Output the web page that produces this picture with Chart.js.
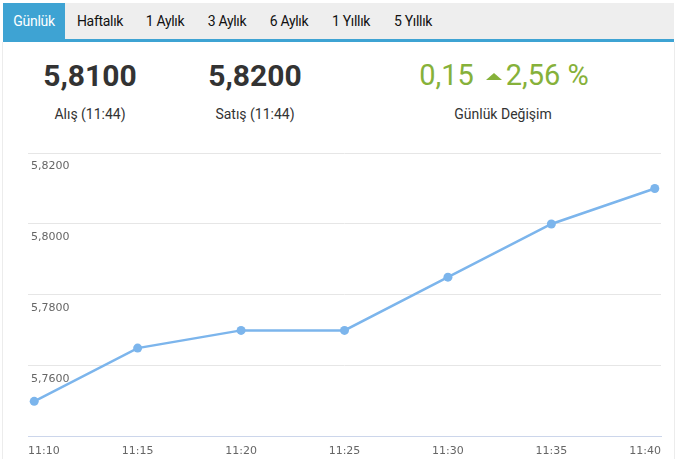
<!DOCTYPE html>
<html lang="tr">
<head>
<meta charset="utf-8">
<title>Günlük</title>
<script src="https://cdn.jsdelivr.net/npm/chart.js@4.4.1/dist/chart.umd.min.js"></script>
<style>
  html, body { margin: 0; padding: 0; background: #fff; }
  body { width: 678px; height: 459px; position: relative; overflow: hidden; font-family: Roboto, "Noto Sans", sans-serif; color: #333; }
  .tabs { position: absolute; left: 3px; top: 3px; width: 671px; height: 36px; background: #eeeeee; border-bottom: 3px solid #3ea3d3; }
  .tab { position: absolute; top: 0; height: 36px; line-height: 36px; font-size: 14px; color: #111; text-align: center; letter-spacing: -0.3px; }
  .tab.active { background: #3ea3d3; color: #fff; }
  .panel { position: absolute; left: 2px; top: 42px; width: 671px; height: 430px; border-left: 1px solid #ececec; border-right: 1px solid #ececec; }
  .big { position: absolute; top: 58px; font-size: 30px; font-weight: 700; color: #333; text-align: center; width: 200px; }
  .lbl { position: absolute; top: 106px; font-size: 14px; color: #333; text-align: center; width: 200px; }
  .green { position: absolute; top: 58px; font-size: 29px; color: #86b13a; text-align: center; width: 260px; left: 374px; }
  .tri { display: inline-block; width: 0; height: 0; border-left: 8.5px solid transparent; border-right: 8.5px solid transparent; border-bottom: 7px solid #86b13a; margin: 0 4px 0 12px; vertical-align: 5px; }
  #wrap { position: absolute; left: 0; top: 140px; width: 678px; height: 326px; }
</style>
</head>
<body>
<div class="tabs">
  <div class="tab active" style="left:0;width:62px">Günlük</div>
  <div class="tab" style="left:64px;width:66px">Haftalık</div>
  <div class="tab" style="left:134px;width:56px">1 Aylık</div>
  <div class="tab" style="left:196px;width:56px">3 Aylık</div>
  <div class="tab" style="left:258px;width:56px">6 Aylık</div>
  <div class="tab" style="left:320px;width:56px">1 Yıllık</div>
  <div class="tab" style="left:382px;width:56px">5 Yıllık</div>
</div>
<div class="panel"></div>
<div class="big" style="left:-10px">5,8100</div>
<div class="lbl" style="left:-10px">Alış (11:44)</div>
<div class="big" style="left:155px">5,8200</div>
<div class="lbl" style="left:155px">Satış (11:44)</div>
<div class="green">0,15<span class="tri"></span>2,56 %</div>
<div class="lbl" style="left:403px">Günlük Değişim</div>
<div id="wrap"><canvas id="chart"></canvas></div>
<script>
// time labels and minute positions
const times = ["11:10", "11:15", "11:20", "11:25", "11:30", "11:35", "11:40"];
const minutes = [10, 15, 20, 25, 30, 35, 40];
// USD/TRY rate at each point
const rates = [5.750, 5.765, 5.770, 5.770, 5.785, 5.800, 5.810];
const yTicks = [5.74, 5.76, 5.78, 5.80, 5.82];

const xMin = 9.7, xMax = 40.3;

function timeFor(v) {
  let best = 0;
  minutes.forEach((m, i) => { if (Math.abs(m - v) < Math.abs(minutes[best] - v)) best = i; });
  return times[best];
}

const ctx = document.getElementById("chart").getContext("2d");
new Chart(ctx, {
  type: "line",
  data: {
    datasets: [{
      data: minutes.map((m, i) => ({ x: m, y: rates[i] })),
      borderColor: "#7cb5ec",
      backgroundColor: "#7cb5ec",
      borderWidth: 2.5,
      pointRadius: 4.5,
      pointBorderWidth: 0,
      tension: 0,
    }],
  },
  options: {
    responsive: true,
    maintainAspectRatio: false,
    animation: false,
    layout: { padding: { left: 22, right: 17, top: 13, bottom: 0 } },
    plugins: { legend: { display: false }, tooltip: { enabled: false } },
    scales: {
      x: {
        type: "linear",
        min: xMin,
        max: xMax,
        afterBuildTicks: axis => {
          // first and last label sit at the plot edges
          axis.ticks = [xMin, 15, 20, 25, 30, 35, xMax].map(v => ({ value: v }));
        },
        grid: { display: false, drawTicks: false },
        border: { display: true, color: "#ccd6eb", width: 1 },
        ticks: {
          align: "inner",
          padding: 8,
          maxRotation: 0,
          autoSkip: false,
          color: "#666",
          font: { family: "DejaVu Sans", size: 11 },
          callback: value => timeFor(value),
        },
      },
      y: {
        min: 5.74,
        max: 5.82,
        afterBuildTicks: axis => {
          axis.ticks = yTicks.map(v => ({ value: v }));
        },
        grid: {
          drawTicks: false,
          color: c => (c.tick && Math.abs(c.tick.value - 5.74) < 1e-6 ? "rgba(0,0,0,0)" : "#e6e6e6"),
        },
        border: { display: false },
        ticks: {
          mirror: true,
          padding: 3,
          labelOffset: 13,
          color: "#666",
          font: { family: "DejaVu Sans", size: 11 },
          callback: value => (Math.abs(value - 5.74) < 1e-6 ? "" : value.toFixed(4).replace(".", ",")),
        },
      },
    },
  },
});
</script>
</body>
</html>
